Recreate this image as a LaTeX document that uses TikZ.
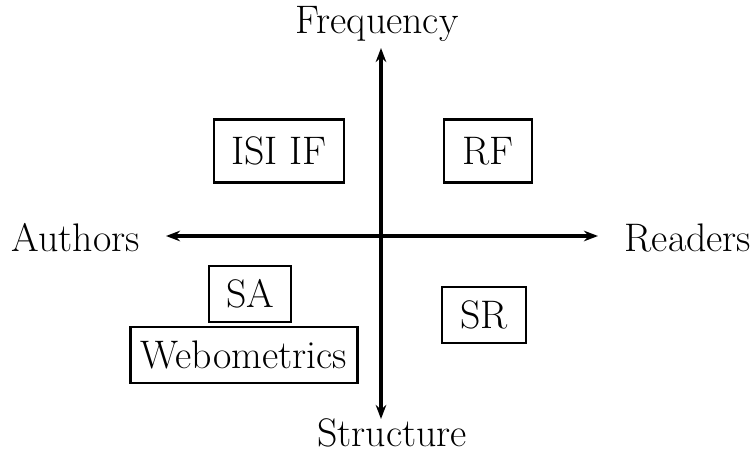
\documentclass[tikz,border=0pt]{standalone}
\usepackage{tikz}
\usetikzlibrary{arrows.meta}

\begin{document}
\begin{tikzpicture}[
    x=0.03cm, y=-0.03cm,
    axis/.style={draw, line width=3.4pt, {Stealth[length=12pt,width=9pt]}-{Stealth[length=12pt,width=9pt]}},
    method/.style={rectangle, draw, line width=2.3pt, inner sep=0pt, font=\fontsize{34}{40}\selectfont},
    axislabel/.style={font=\fontsize{34}{40}\selectfont, inner sep=0pt}
]
\useasboundingbox (0,0) rectangle (753,454);

% axis labels
\node[axislabel] (freq) at (377,24) {Frequency};
\node[axislabel] (struct) at (392,433) {Structure};
\node[axislabel] (auth) at (76,238) {Authors};
\node[axislabel] (read) at (688,238) {Readers};

% axis ends
\coordinate (top) at (381,48);
\coordinate (bot) at (381,419);
\coordinate (left) at (166,236);
\coordinate (right) at (598,236);

% the two axes
\draw[axis] (bot) -- (top);
\draw[axis] (left) -- (right);

% measures in the quadrants
\node[method, minimum width=3.9cm, minimum height=1.89cm] (isi) at (279,151) {ISI IF};
\node[method, minimum width=2.64cm, minimum height=1.89cm] (rf) at (488,151) {RF};
\node[method, minimum width=2.46cm, minimum height=1.68cm] (sa) at (250,294) {SA};
\node[method, minimum width=2.52cm, minimum height=1.68cm] (sr) at (484,315) {SR};
\node[method, minimum width=6.81cm, minimum height=1.68cm] (webo) at (244,355) {Webometrics};

\end{tikzpicture}
\end{document}
